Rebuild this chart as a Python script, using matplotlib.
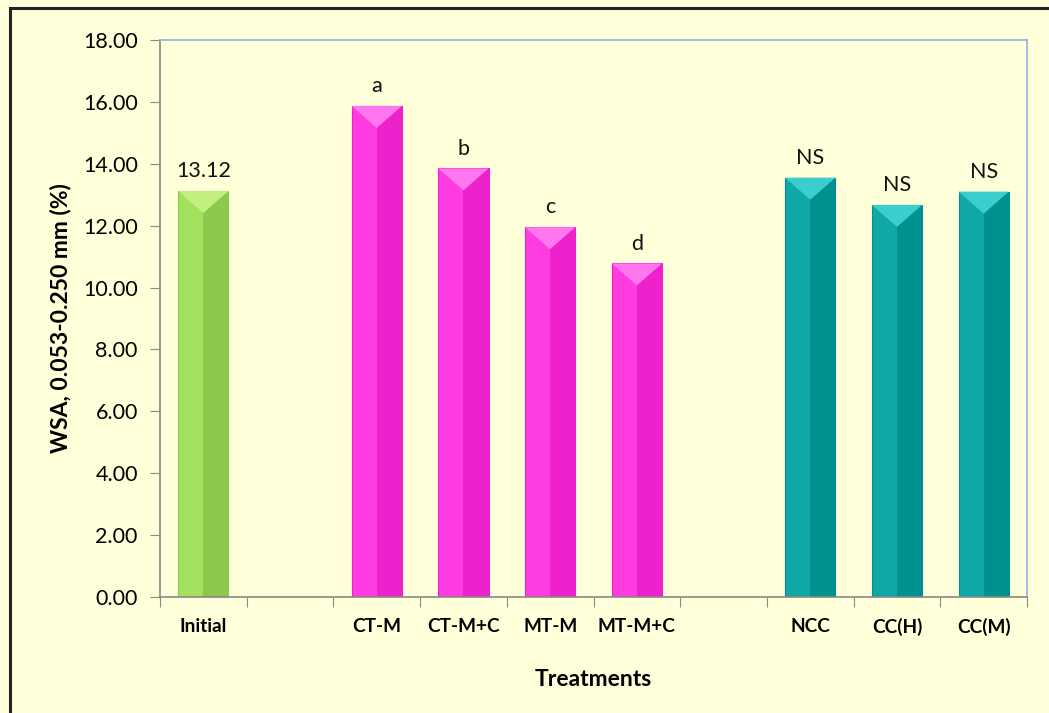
import matplotlib
matplotlib.use("Agg")
import matplotlib.pyplot as plt
from matplotlib.patches import Polygon, Rectangle
import numpy as np

categories = ["Initial", "", "CT-M", "CT-M+C", "MT-M", "MT-M+C", "", "NCC", "CC(H)", "CC(M)"]
values = [13.12, np.nan, 15.87, 13.85, 11.95, 10.78, np.nan, 13.55, 12.67, 13.10]
labels = ["13.12", "", "a", "b", "c", "d", "", "NS", "NS", "NS"]
groups = ["init", None, "mag", "mag", "mag", "mag", None, "teal", "teal", "teal"]

palette = {
    "init": ("#A3E05E", "#8CC84B", "#C2F080"),
    "mag": ("#FF3CE0", "#EE22CC", "#FF77EE"),
    "teal": ("#0FA8A6", "#00918E", "#3ACFCC"),
}

bg = "#FFFFDA"
plt.rcParams['font.family'] = ['Lato', 'DejaVu Sans']

fig = plt.figure(figsize=(10.49, 7.13), dpi=100, facecolor=bg)
ax = fig.add_axes([160/1049, 1-597/713, (1027-160)/1049, (597-40)/713])
ax.set_facecolor(bg)

x = np.arange(len(categories))
w = 0.58
ax.set_xlim(-0.5, len(categories) - 0.5)
ax.set_ylim(0, 18)

tri_depth = 18 * 22 / 557.0
for xi, v, g, lab in zip(x, values, groups, labels):
    if g is None or np.isnan(v):
        continue
    c_left, c_right, c_top = palette[g]
    ax.bar(xi, v, width=w, color=c_left, edgecolor=c_right, linewidth=0.8, zorder=2)
    ax.bar(xi, v, width=w / 2, align='edge', color=c_right, linewidth=0, zorder=2.1)
    tri = Polygon([[xi - w / 2, v], [xi + w / 2, v], [xi, v - tri_depth]],
                  closed=True, facecolor=c_top, edgecolor='none', zorder=2.2)
    ax.add_patch(tri)
    ax.annotate(lab, (xi, v), xytext=(0, 7), textcoords='offset points',
                ha='center', va='bottom', fontsize=15.5, color='#111111', zorder=3)

ax.set_yticks(np.arange(0, 18.01, 2))
ax.set_yticklabels([f"{t:.2f}" for t in np.arange(0, 18.01, 2)], fontsize=15.5)
ax.set_xticks(np.arange(-0.5, len(categories), 1), minor=False)
ax.set_xticklabels([])
ax.set_xticks(x, minor=True)
ax.set_xticklabels(categories, minor=True, fontsize=13.7, fontweight='bold')
ax.tick_params(axis='x', which='major', length=7, color='#888888', direction='out')
ax.tick_params(axis='x', which='minor', length=0, pad=15)
ax.tick_params(axis='y', length=7, color='#888888', direction='out', pad=9)

for s in ['left', 'bottom']:
    ax.spines[s].set_color('#888888')
    ax.spines[s].set_linewidth(1.2)
for s in ['top', 'right']:
    ax.spines[s].set_color('#8DB3E2')
    ax.spines[s].set_linewidth(1.2)

ax.set_xlabel("Treatments", fontsize=16.5, fontweight='bold', labelpad=24)
ax.set_ylabel("WSA, 0.053-0.250 mm (%)", fontsize=16.5, fontweight='bold', labelpad=8)

fig.patches.append(Rectangle((10/1049, -0.1), 1.2, 1 - 8/713 + 0.1, transform=fig.transFigure,
                             fill=False, edgecolor='#222222', linewidth=2.2, zorder=10))

fig.savefig("out.png", dpi=100, facecolor=bg)
